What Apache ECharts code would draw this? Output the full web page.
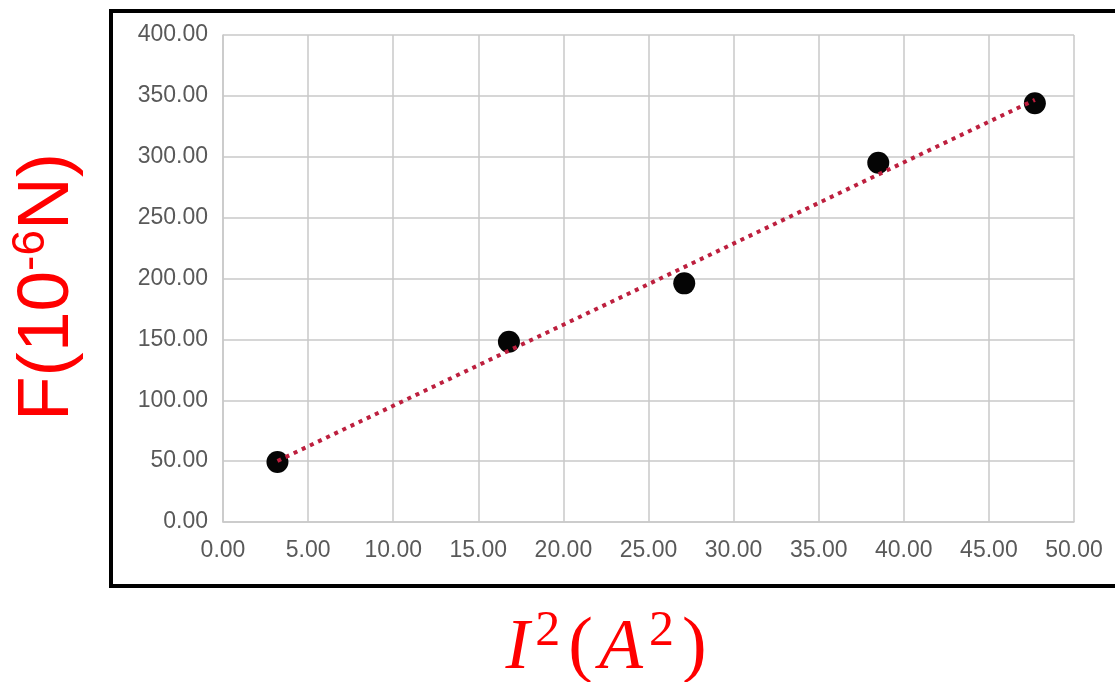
<!DOCTYPE html>
<html>
<head>
<meta charset="utf-8">
<script src="https://cdn.jsdelivr.net/npm/echarts@6/dist/echarts.min.js"></script>
<style>html,body{margin:0;padding:0;background:#fff;}#c{width:1115px;height:682px;}</style>
</head>
<body>
<div id="c"></div>
<script>
// measured points: I^2 (A^2) vs F (10^-6 N)
var currentSq = [3.2, 16.8, 27.1, 38.5, 47.7];
var force = [49.3, 148, 196, 295, 344];
// dotted trendline endpoints
var trendX = [3.2, 47.7];
var trendY = [50.1, 346.7];
var xTicks = {min: 0, max: 50, step: 5};
var yTicks = {min: 0, max: 400, step: 50};

var chart = echarts.init(document.getElementById('c'));
var gridColor = '#c9c9c9';
chart.setOption({
  animation: false,
  backgroundColor: '#ffffff',
  grid: {left: 223, right: 41, top: 35, bottom: 160, containLabel: false},
  xAxis: {
    type: 'value', min: xTicks.min, max: xTicks.max, interval: xTicks.step,
    axisLine: {show: true, lineStyle: {color: gridColor, width: 1.5}},
    axisTick: {show: false},
    splitLine: {show: true, lineStyle: {color: gridColor, width: 1.5}},
    axisLabel: {color: '#595959', fontSize: 23, fontFamily: 'Liberation Sans, Arial, sans-serif', margin: 17,
      formatter: function(v){return v.toFixed(2);}}
  },
  yAxis: {
    type: 'value', min: yTicks.min, max: yTicks.max, interval: yTicks.step,
    axisLine: {show: true, lineStyle: {color: gridColor, width: 1.5}},
    axisTick: {show: false},
    splitLine: {show: true, lineStyle: {color: gridColor, width: 1.5}},
    axisLabel: {color: '#595959', fontSize: 23, fontFamily: 'Liberation Sans, Arial, sans-serif', margin: 15,
      formatter: function(v){return v.toFixed(2);}}
  },
  series: [
    {
      type: 'scatter', symbol: 'circle', symbolSize: 22,
      itemStyle: {color: '#050505', opacity: 1},
      data: currentSq.map(function(x, i){return [x, force[i]];}),
      z: 2
    },
    {
      type: 'line', symbol: 'none', silent: true,
      lineStyle: {color: '#bd1f3e', width: 4, type: [4, 5], cap: 'butt'},
      data: trendX.map(function(x, i){return [x, trendY[i]];}),
      z: 3
    }
  ],
  graphic: [
    {type: 'rect', shape: {x: 111, y: 11, width: 1020, height: 575},
     style: {fill: 'none', stroke: '#000', lineWidth: 4}, z: 100},
    {type: 'text', x: 48, y: 287, rotation: Math.PI / 2,
     style: {
       text: '{a|F(10}{b|-6}{a|N)}',
       align: 'center', verticalAlign: 'middle',
       rich: {
         a: {fontSize: 73, fontFamily: 'Liberation Sans, Arial, sans-serif', fill: '#ff0000', lineHeight: 80},
         b: {fontSize: 46, fontFamily: 'Liberation Sans, Arial, sans-serif', fill: '#ff0000', verticalAlign: 'top', lineHeight: 80}
       }
     }, z: 100},
    {type: 'text', x: 605, y: 649,
     style: {
       text: '{i|I}{s|2}{p|(}{i|A}{s|2}{p|)}',
       align: 'center', verticalAlign: 'middle',
       rich: {
         i: {fontSize: 72, fontFamily: 'Liberation Serif, serif', fontStyle: 'italic', fill: '#ff0000', lineHeight: 84, padding: [0, 4, 0, 4]},
         s: {fontSize: 50, fontFamily: 'Liberation Serif, serif', fill: '#ff0000', verticalAlign: 'top', lineHeight: 84, padding: [0, 6, 0, 2]},
         p: {fontSize: 74, fontFamily: 'Liberation Serif, serif', fill: '#ff0000', lineHeight: 84, padding: [0, 2, 0, 2]}
       }
     }, z: 100}
  ]
});
</script>
</body>
</html>
